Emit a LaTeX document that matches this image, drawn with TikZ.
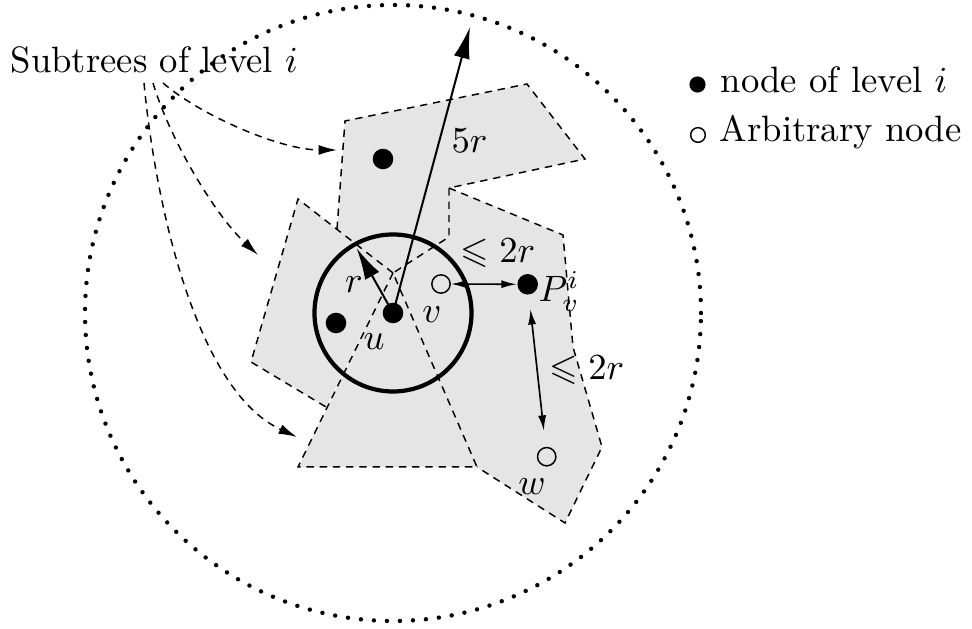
\documentclass[tikz,border=0pt]{standalone}
\usepackage{amssymb}
\usetikzlibrary{arrows.meta}
\begin{document}
\begin{tikzpicture}[x=0.2726pt,y=-0.2726pt,
  region/.style={fill=gray!20, draw=none},
  border/.style={dash pattern=on 2pt off 1.6pt, line width=0.4pt},
  lvl/.style={circle, fill=black, draw=none, inner sep=0pt, minimum size=5.6pt},
  arb/.style={circle, draw=black, line width=0.4pt, fill=none, inner sep=0pt, minimum size=5.0pt},
  lbl/.style={inner sep=0pt},
  bigarrow/.style={line width=0.55pt, -{Latex[length=8.6pt,width=4.4pt]}},
  dist/.style={line width=0.45pt, {Latex[length=4.2pt,width=2.2pt]}-{Latex[length=4.2pt,width=2.2pt]}},
  pointer/.style={border, -{Latex[length=5pt,width=2.7pt]}},
  farcircle/.style={line width=1.2pt, line cap=round, dash pattern=on 0pt off 3.55pt},
  ball/.style={line width=1.15pt}
]
\useasboundingbox (0,0) rectangle (972,629);

\coordinate (C) at (393,273);

% gray regions (subtrees)
\fill[gray!20] (345,121) -- (527,84) -- (585,159) -- (449,188) -- (449,237) -- (C) -- (337,229) -- cycle;
\fill[gray!20] (298,199) -- (251,362) -- (326,407) -- (C) -- cycle;
\fill[gray!20] (298,467) -- (477,467) -- (C) -- cycle;
\fill[gray!20] (449,188) -- (563,235) -- (573,347) -- (602,447) -- (565,523) -- (477,467) -- (C) -- (449,237) -- cycle;

% dashed borders
\draw[border] (337,229) -- (345,121) -- (527,84) -- (585,159) -- (449,188) -- (449,237) -- (C);
\draw[border] (C) -- (298,199) -- (251,362) -- (326,407);
\draw[border] (C) -- (298,467) -- (477,467) -- cycle;
\draw[border] (449,188) -- (563,235) -- (573,347) -- (602,447) -- (565,523) -- (477,467);

% nodes
\node[lvl] (u) at (393,313) {};
\node[lvl] (a) at (383,159) {};
\node[lvl] (b) at (336,323) {};
\node[lvl] (P) at (527.7,284.3) {};
\node[arb] (v) at (441,284) {};
\node[arb] (w) at (546.7,456.7) {};

% circles
\draw[ball] (u.center) circle (21.4pt);
\draw[farcircle] (u.center) circle (83.96pt);

% radii
\coordinate (top) at (470,27);
\coordinate (rtip) at (356.7,248.3);
\draw[bigarrow] (u.center) -- (top);
\draw[bigarrow] (u.center) -- (rtip);

% distances
\draw[dist] (v) -- (P);
\draw[dist, shorten <=3.8pt, shorten >=4.4pt] (P) -- (w);

% labels
\node[lbl] at (469.5,140.5) {$5r$};
\node[lbl] at (354,285) {$r$};
\node[lbl] at (374,342) {$u$};
\node[lbl] at (432,315) {$v$};
\node[lbl] at (532,487) {$w$};
\node[lbl] at (498,253) {$\leqslant 2r$};
\node[lbl] at (587,370) {$\leqslant 2r$};
\node[lbl, anchor=base west] at (538,302) {$P_v^i$};

% subtrees label and pointers
\node[lbl, anchor=base west] (sub) at (10,73) {Subtrees of level $i$};
\coordinate (s3) at (144,83);
\coordinate (s2) at (153,83);
\coordinate (s1) at (163,83);
\coordinate (e1) at (337,150);
\coordinate (e2) at (258,255);
\coordinate (e3) at (297,437);
\draw[pointer] (s1) .. controls (200,115) and (280,150) .. (e1);
\draw[pointer] (s2) .. controls (170,140) and (215,215) .. (e2);
\draw[pointer] (s3) .. controls (155,200) and (195,390) .. (e3);

% legend
\node[lvl, minimum size=4.4pt] (k1) at (697.5,84.5) {};
\node[lbl, anchor=base west] (t1) at (720,93) {node of level $i$};
\node[arb, minimum size=4.0pt] (k2) at (698,135) {};
\node[lbl, anchor=base west] (t2) at (719,142) {Arbitrary node};
\end{tikzpicture}
\end{document}
